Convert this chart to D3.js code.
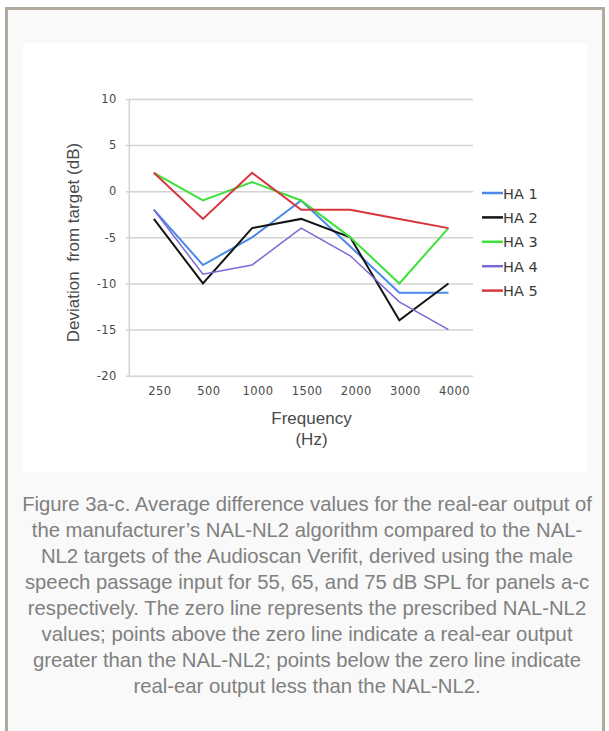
<!DOCTYPE html>
<html>
<head>
<meta charset="utf-8">
<script src="https://cdn.jsdelivr.net/npm/d3@7"></script>
<style>
  html, body { margin: 0; padding: 0; background: #ffffff; }
  svg { display: block; }
</style>
</head>
<body>
<svg id="chart" width="609" height="731"></svg>
<script>
// ---- data ----
const categories = ["250", "500", "1000", "1500", "2000", "3000", "4000"];
const seriesNames = ["HA 1", "HA 2", "HA 3", "HA 4", "HA 5"];
const ha1 = [-2, -8, -5, -1, -6, -11, -11];
const ha2 = [-3, -10, -4, -3, -5, -14, -10];
const ha3 = [2, -1, 1, -1, -5, -10, -4];
const ha4 = [-2, -9, -8, -4, -7, -12, -15];
const ha5 = [2, -3, 2, -2, -2, -3, -4];
const yTicks = [10, 5, 0, -5, -10, -15, -20];
const colors = ["#4a8ae6", "#141414", "#3ee03a", "#7a68d4", "#d8343c"];
const widths = [2, 2, 2, 1.5, 2];
const yTitle = "Deviation\u00a0\u00a0from target (dB)";
const xTitleLines = ["Frequency", "(Hz)"];
const captionLines = [
  "Figure 3a-c. Average difference values for the real-ear output of",
  "the manufacturer\u2019s NAL-NL2 algorithm compared to the NAL-",
  "NL2 targets of the Audioscan Verifit, derived using the male",
  "speech passage input for 55, 65, and 75 dB SPL for panels a-c",
  "respectively. The zero line represents the prescribed NAL-NL2",
  "values; points above the zero line indicate a real-ear output",
  "greater than the NAL-NL2; points below the zero line indicate",
  "real-ear output less than the NAL-NL2."
];

const series = [ha1, ha2, ha3, ha4, ha5];

const svg = d3.select("#chart");

// frame
svg.append("rect").attr("x", 5).attr("y", 7).attr("width", 600).attr("height", 730)
  .attr("fill", "#f9f9f9");
svg.append("path")
  .attr("d", "M6.5,740 V8.5 H603.5 V740")
  .attr("fill", "none").attr("stroke", "#b3aa9f").attr("stroke-width", 3);
svg.append("rect").attr("x", 23).attr("y", 43).attr("width", 564).attr("height", 429)
  .attr("fill", "#ffffff");

// scales
const x = d3.scaleBand().domain(categories).range([129.3, 473]);
const y = d3.scaleLinear().domain([-20, 10]).range([375.7, 99]);
const cx = d => x(d) + x.bandwidth() / 2;

const tickFont = "'DejaVu Sans', Verdana, sans-serif";
const titleFont = "'Liberation Sans', Arial, Helvetica, sans-serif";

// y axis with gridlines
const yAxis = d3.axisLeft(y).tickValues(yTicks).tickSize(-(473 - 126)).tickPadding(10)
  .tickFormat(d => String(d));
const gy = svg.append("g").attr("transform", "translate(126,0)").call(yAxis);
gy.select(".domain").remove();
gy.selectAll(".tick line").attr("stroke", "#d3d3d3").attr("stroke-width", 1.5);
gy.selectAll(".tick text").attr("font-family", tickFont).attr("font-size", 11.5)
  .attr("fill", "#4a4a4a").attr("x", -9.5).attr("letter-spacing", 0.3);

// vertical axis line
svg.append("line").attr("x1", 129.3).attr("x2", 129.3).attr("y1", y(10)).attr("y2", y(-20))
  .attr("stroke", "#d3d3d3").attr("stroke-width", 1.5);

// x axis labels
const xAxis = d3.axisBottom(x).tickSize(0).tickPadding(0);
const gx = svg.append("g").attr("transform", `translate(0,${y(-20)})`).call(xAxis);
gx.select(".domain").remove();
gx.selectAll(".tick text").attr("font-family", tickFont).attr("font-size", 11.5)
  .attr("fill", "#4a4a4a").attr("dy", 0).attr("y", 19.3).attr("dx", 6)
  .attr("letter-spacing", 0.4);

// axis titles
svg.append("text").attr("transform", "translate(79,242.5) rotate(-90)")
  .attr("text-anchor", "middle").attr("font-family", titleFont).attr("font-size", 17)
  .attr("fill", "#4a4a4a").text(yTitle);
svg.selectAll(".xtitle").data(xTitleLines).enter().append("text")
  .attr("class", "xtitle")
  .attr("x", 311.5).attr("y", (d, i) => 424 + i * 21)
  .attr("text-anchor", "middle").attr("font-family", titleFont).attr("font-size", 17)
  .attr("fill", "#4a4a4a").text(d => d);

// lines
const line = d3.line().x((d, i) => cx(categories[i])).y(d => y(d));
svg.selectAll(".series").data(series).enter().append("path")
  .attr("class", "series")
  .attr("d", d => line(d))
  .attr("fill", "none")
  .attr("stroke", (d, i) => colors[i])
  .attr("stroke-width", (d, i) => widths[i])
  .attr("stroke-linejoin", "miter");

// legend
const lg = svg.selectAll(".lg").data(seriesNames).enter().append("g")
  .attr("class", "lg")
  .attr("transform", (d, i) => `translate(482,${193 + i * 24.4})`);
lg.append("line").attr("x1", 0).attr("x2", 21).attr("y1", 0).attr("y2", 0)
  .attr("stroke", (d, i) => colors[i]).attr("stroke-width", 2.5);
lg.append("text").attr("x", 21).attr("y", 5.5).attr("font-family", tickFont)
  .attr("font-size", 14.5).attr("fill", "#3a3a3a").text(d => d);

// caption
svg.selectAll(".cap").data(captionLines).enter().append("text")
  .attr("class", "cap")
  .attr("x", 307).attr("y", (d, i) => 510.7 + i * 26)
  .attr("text-anchor", "middle").attr("font-family", titleFont).attr("font-size", 20.3)
  .attr("fill", "#808080").text(d => d);
</script>
</body>
</html>
